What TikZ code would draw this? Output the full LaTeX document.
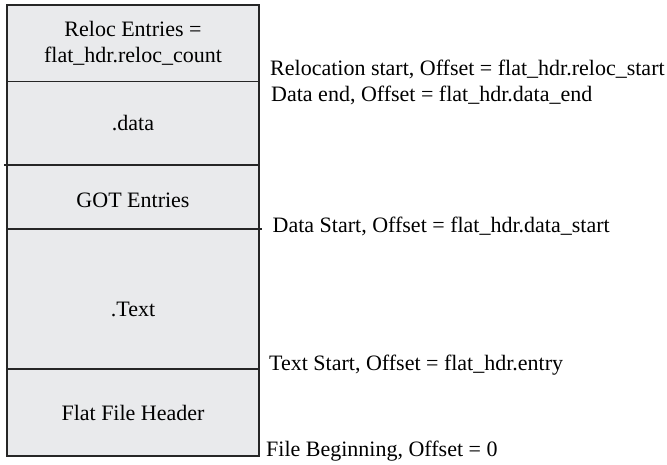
\documentclass[tikz,border=0pt]{standalone}
\usepackage{fontspec}
\setmainfont{Liberation Serif}
\usepackage{xcolor}
\usetikzlibrary{positioning}
\definecolor{secfill}{HTML}{E9EAEC}
\definecolor{secline}{HTML}{262626}

\begin{document}
\begin{tikzpicture}[
  x=1pt, y=1pt,
  section/.style={draw=secline, line width=1.8pt, fill=secfill, outer sep=0pt, minimum width=252pt, align=center, font=\fontsize{22}{26}\selectfont},
  offset/.style={anchor=base west, inner sep=0pt, font=\fontsize{22}{26}\selectfont},
]
\useasboundingbox (0,0) rectangle (667,465);

% file sections, top to bottom
\node[section, minimum height=76.5pt, anchor=north west] (reloc) at (7,460) {Reloc Entries =\\flat\_hdr.reloc\_count};
\node[section, minimum height=83.5pt, below=0pt of reloc] (data) {.data};
\node[section, minimum height=64pt, text height=22pt, below=0pt of data] (got) {GOT Entries};
\node[section, minimum height=140pt, text height=36pt, below=0pt of got] (txt) {.Text};
\node[section, minimum height=87pt, below=0pt of txt] (hdr) {Flat File Header};

\draw[draw=secline, line width=1.8pt] ([xshift=-3pt]data.south west) -- (data.south west);
\draw[draw=secline, line width=1.8pt] (got.south east) -- ([xshift=3pt]got.south east);

% offsets
\node[offset] (relocstart) at ([xshift=11pt,yshift=5.8pt]reloc.south east) {Relocation start, Offset = flat\_hdr.reloc\_start};
\node[offset] (dataend) at ([xshift=12pt,yshift=-20pt]reloc.south east) {Data end, Offset = flat\_hdr.data\_end};
\node[offset] (datastart) at ([xshift=13.5pt,yshift=-4pt]got.south east) {Data Start, Offset = flat\_hdr.data\_start};
\node[offset] (textstart) at ([xshift=10pt,yshift=-2pt]txt.south east) {Text Start, Offset = flat\_hdr.entry};
\node[offset] (filebegin) at ([xshift=7pt,yshift=-1pt]hdr.south east) {File Beginning, Offset = 0};
\end{tikzpicture}
\end{document}
